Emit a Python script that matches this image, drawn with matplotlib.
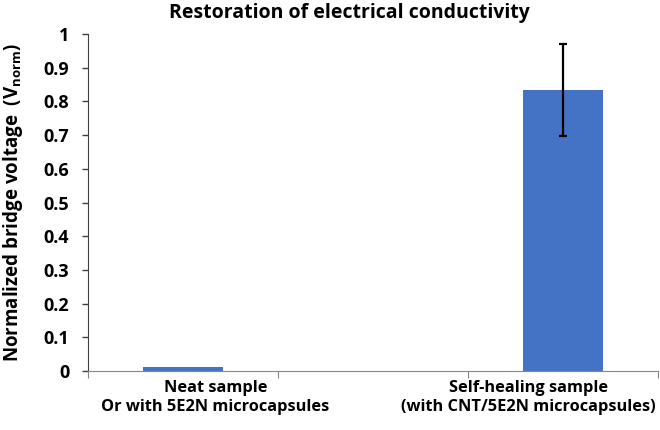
import matplotlib
matplotlib.use('Agg')
import matplotlib.pyplot as plt
import matplotlib.transforms as mtransforms

# Data
categories = ['Neat sample\nOr with 5E2N microcapsules', '',
              'Self-healing sample\n(with CNT/5E2N microcapsules)']
values = [0.013, None, 0.834]
errors = [0.0, None, 0.137]
y_ticks = [0, 0.1, 0.2, 0.3, 0.4, 0.5, 0.6, 0.7, 0.8, 0.9, 1]
y_tick_labels = ['0', '0.1', '0.2', '0.3', '0.4', '0.5', '0.6', '0.7', '0.8', '0.9', '1']

plt.rcParams['font.family'] = ['Open Sans', 'DejaVu Sans']
plt.rcParams['font.weight'] = 'bold'
plt.rcParams['mathtext.fontset'] = 'custom'
plt.rcParams['mathtext.rm'] = 'Open Sans:bold'

fig = plt.figure(figsize=(6.6, 4.3), dpi=100)
ax = fig.add_axes([88 / 660, 1 - 371 / 430, (658 - 88) / 660, (371 - 34) / 430])

bar_color = '#4472C4'
xs = [i for i, v in enumerate(values) if v is not None]
hs = [v for v in values if v is not None]
es = [e for e in errors if e is not None]
ax.bar(xs, hs, width=0.42, color=bar_color, zorder=2)
ax.errorbar(xs[1:], hs[1:], yerr=es[1:], fmt='none', ecolor='black',
            elinewidth=1.6, capsize=3, capthick=1.6, zorder=3)

ax.set_xlim(-0.5, len(categories) - 0.5)
ax.set_ylim(0, 1)
ax.set_yticks(y_ticks)
ax.set_yticklabels(y_tick_labels, fontsize=13, fontweight='bold')

# category boundary ticks, Excel style
ax.set_xticks([i - 0.5 for i in range(len(categories) + 1)])
ax.set_xticklabels([])
ax.tick_params(axis='x', length=5, color='#868686', direction='out')
ax.tick_params(axis='y', length=4.5, width=1, direction='out', color='#404040', pad=9)

ax.spines['top'].set_visible(False)
ax.spines['right'].set_visible(False)
ax.spines['left'].set_color('#404040')
ax.spines['bottom'].set_color('#868686')

trans = mtransforms.blended_transform_factory(ax.transData, fig.transFigure)
label_x = {0: 0.17, 2: 1.82}
for i, lab in enumerate(categories):
    if lab:
        ax.text(label_x[i], 1 - 380 / 430, lab, transform=trans, ha='center', va='top',
                fontsize=11.8, fontweight='bold', linespacing=1.25)

ax.set_ylabel(r'Normalized bridge voltage  (V$_{\mathregular{norm}}$)',
              fontsize=13.5, fontweight='bold', labelpad=13)

fig.text(349 / 660, 1 - 13 / 430, 'Restoration of electrical conductivity',
         ha='center', va='center', fontsize=14, fontweight='bold')

fig.savefig('out.png', dpi=100)
